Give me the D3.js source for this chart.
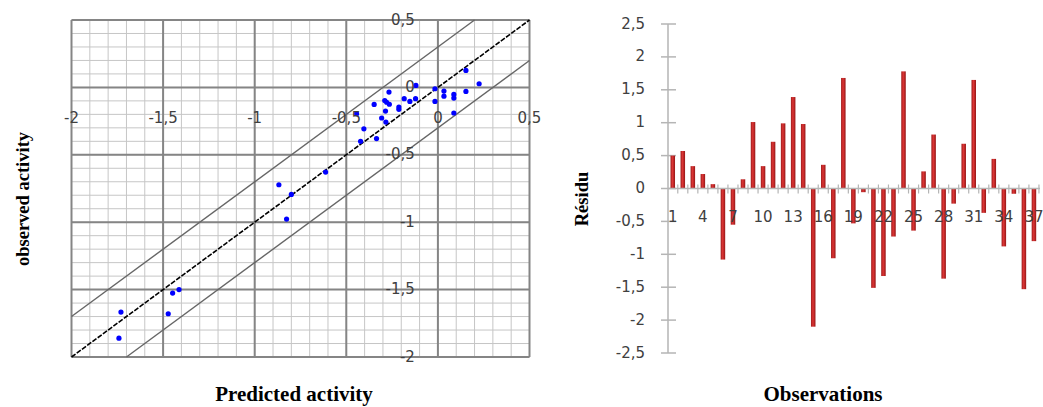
<!DOCTYPE html>
<html><head><meta charset="utf-8">
<script src="https://cdn.jsdelivr.net/npm/d3@7"></script>
<style>body{margin:0;background:#fff}svg{display:block}</style>
</head><body>
<svg id="c" width="1043" height="407"></svg>
<script>
// ---- Left chart data: predicted vs observed activity ----
const predicted = [0.153, 0.225, -0.12, -0.267, -0.016, 0.033, 0.033, 0.087, 0.087, 0.153,
  -0.016, 0.087, -0.184, -0.153, -0.122, -0.29, -0.28, -0.265, -0.348, -0.213,
  -0.213, -0.286, -0.307, -0.284, -0.444, -0.404, -0.422, -0.335, -0.613, -0.868,
  -0.80, -0.826, -1.413, -1.448, -1.472, -1.73, -1.741];
const observed = [0.126, 0.027, 0.015, -0.035, -0.01, -0.027, -0.065, -0.052, -0.079, -0.03,
  -0.104, -0.19, -0.084, -0.104, -0.084, -0.097, -0.11, -0.125, -0.126, -0.146,
  -0.163, -0.176, -0.227, -0.257, -0.195, -0.307, -0.40, -0.38, -0.628, -0.722,
  -0.794, -0.977, -1.50, -1.526, -1.679, -1.667, -1.86];
const scatterTicks = [-2, -1.5, -1, -0.5, 0, 0.5];
const bandOffsets = [0.3, 0, -0.3];   // y = x + offset

// ---- Right chart data: residuals ----
const observations = [1,2,3,4,5,6,7,8,9,10,11,12,13,14,15,16,17,18,19,20,21,22,23,24,25,26,27,28,29,30,31,32,33,34,35,36,37];
const residuals = [0.50, 0.57, 0.34, 0.22, 0.066, -1.08, -0.55, 0.14, 1.01, 0.34,
  0.71, 0.99, 1.39, 0.98, -2.10, 0.36, -1.06, 1.68, -0.53, -0.056,
  -1.51, -1.33, -0.73, 1.78, -0.64, 0.26, 0.82, -1.37, -0.23, 0.68,
  1.65, -0.37, 0.45, -0.88, -0.08, -1.53, -0.80];
const residTicks = [2.5, 2, 1.5, 1, 0.5, 0, -0.5, -1, -1.5, -2, -2.5];
const obsLabels = [1, 4, 7, 10, 13, 16, 19, 22, 25, 28, 31, 34, 37];

const loc = d3.formatLocale({decimal: ",", thousands: " ", grouping: [3], currency: ["", ""], minus: "-"});
const fmt = v => loc.format("")(+v.toFixed(2));

const svg = d3.select("#c");
const tickFont = "'DejaVu Sans', sans-serif";
const titleFont = "'Liberation Serif', 'Times New Roman', serif";

// ================= LEFT =================
const x = d3.scaleLinear([-2, 0.5], [71.5, 529.5]);
const y = d3.scaleLinear([-2, 0.5], [357, 20]);
const L = svg.append("g");
const minor = d3.range(-20, 6).map(i => i / 10);
L.append("g").selectAll("line.mv").data(minor).join("line")
  .attr("x1", d => x(d)).attr("x2", d => x(d)).attr("y1", y(0.5)).attr("y2", y(-2))
  .attr("stroke", "#c6c6c6").attr("stroke-width", 1);
L.append("g").selectAll("line.mh").data(minor).join("line")
  .attr("y1", d => y(d)).attr("y2", d => y(d)).attr("x1", x(-2)).attr("x2", x(0.5))
  .attr("stroke", "#c6c6c6").attr("stroke-width", 1);
L.append("g").selectAll("line").data(scatterTicks).join("line")
  .attr("x1", d => x(d)).attr("x2", d => x(d)).attr("y1", y(0.5)).attr("y2", y(-2))
  .attr("stroke", "#858585").attr("stroke-width", 2);
L.append("g").selectAll("line").data(scatterTicks).join("line")
  .attr("y1", d => y(d)).attr("y2", d => y(d)).attr("x1", x(-2)).attr("x2", x(0.5))
  .attr("stroke", "#858585").attr("stroke-width", 2);

// band lines
bandOffsets.forEach(off => {
  const x0 = Math.max(-2, -2 - off), x1 = Math.min(0.5, 0.5 - off);
  L.append("line")
    .attr("x1", x(x0)).attr("y1", y(x0 + off)).attr("x2", x(x1)).attr("y2", y(x1 + off))
    .attr("stroke", off === 0 ? "#000" : "#666")
    .attr("stroke-width", off === 0 ? 1.6 : 1.4)
    .attr("stroke-dasharray", off === 0 ? "5,1.5" : null);
});

// points
L.append("g").selectAll("circle").data(predicted).join("circle")
  .attr("cx", d => x(d)).attr("cy", (d, i) => y(observed[i])).attr("r", 2.6)
  .attr("fill", "#0000ff");

// tick labels
L.append("g").selectAll("text").data(scatterTicks).join("text")
  .attr("x", d => x(d)).attr("y", y(0) + 31).attr("text-anchor", "middle")
  .attr("dominant-baseline", "middle").attr("font-family", tickFont).attr("font-size", 15)
  .attr("fill", "#404040").text(d => fmt(d));
L.append("g").selectAll("text").data(scatterTicks).join("text")
  .attr("x", x(0) - 23).attr("y", d => y(d)).attr("text-anchor", "end")
  .attr("dominant-baseline", "middle").attr("font-family", tickFont).attr("font-size", 15)
  .attr("fill", "#404040").text(d => fmt(d));

L.append("text").attr("x", 294).attr("y", 401).attr("text-anchor", "middle")
  .attr("font-family", titleFont).attr("font-weight", "bold").attr("font-size", 21)
  .attr("fill", "#000").text("Predicted activity");
L.append("text").attr("transform", "translate(29,199) rotate(-90)").attr("text-anchor", "middle")
  .attr("font-family", titleFont).attr("font-weight", "bold").attr("font-size", 18.5)
  .attr("fill", "#000").text("observed activity");

// ================= RIGHT =================
const yR = d3.scaleLinear([-2.5, 2.5], [353, 24]);
const xR = d3.scaleBand(observations, [668, 1038.7]).paddingInner(0.55).paddingOuter(0.25);
const R = svg.append("g");
const defs = svg.append("defs");
const grad = defs.append("linearGradient").attr("id", "bar").attr("x1", 0).attr("x2", 1).attr("y1", 0).attr("y2", 0);
grad.append("stop").attr("offset", "0%").attr("stop-color", "#a01c1c");
grad.append("stop").attr("offset", "45%").attr("stop-color", "#dc3535");
grad.append("stop").attr("offset", "100%").attr("stop-color", "#951616");

// y axis
R.append("line").attr("x1", 668).attr("x2", 668).attr("y1", yR(2.5)).attr("y2", yR(-2.5))
  .attr("stroke", "#b5b5b5").attr("stroke-width", 1.5);
R.append("g").selectAll("line").data(residTicks).join("line")
  .attr("x1", 661).attr("x2", 676).attr("y1", d => yR(d)).attr("y2", d => yR(d))
  .attr("stroke", "#b5b5b5").attr("stroke-width", 1.5);
R.append("g").selectAll("text").data(residTicks).join("text")
  .attr("x", 645).attr("y", d => yR(d)).attr("text-anchor", "end").attr("dominant-baseline", "middle")
  .attr("font-family", tickFont).attr("font-size", 15).attr("fill", "#404040").text(d => fmt(d));

// bars
R.append("g").selectAll("rect").data(residuals).join("rect")
  .attr("x", (d, i) => xR(observations[i]))
  .attr("width", xR.bandwidth())
  .attr("y", d => yR(Math.max(0, d)))
  .attr("height", d => Math.abs(yR(d) - yR(0)))
  .attr("fill", "url(#bar)");

// category axis at zero
const step = xR.step();
R.append("line").attr("x1", 668).attr("x2", 1040).attr("y1", yR(0)).attr("y2", yR(0))
  .attr("stroke", "#b5b5b5").attr("stroke-width", 1.5);
R.append("g").selectAll("line").data(observations).join("line")
  .attr("x1", d => xR(d) + xR.bandwidth() / 2 + step / 2).attr("x2", d => xR(d) + xR.bandwidth() / 2 + step / 2)
  .attr("y1", yR(0) - 4).attr("y2", yR(0) + 5)
  .attr("stroke", "#b5b5b5").attr("stroke-width", 1.2);
R.append("g").selectAll("text").data(obsLabels).join("text")
  .attr("x", d => xR(d) + xR.bandwidth() / 2).attr("y", yR(0) + 29).attr("text-anchor", "middle")
  .attr("dominant-baseline", "middle").attr("font-family", tickFont).attr("font-size", 15)
  .attr("fill", "#404040").text(d => d);

R.append("text").attr("x", 823).attr("y", 401).attr("text-anchor", "middle")
  .attr("font-family", titleFont).attr("font-weight", "bold").attr("font-size", 21)
  .attr("fill", "#000").text("Observations");
R.append("text").attr("transform", "translate(588,199) rotate(-90)").attr("text-anchor", "middle")
  .attr("font-family", titleFont).attr("font-weight", "bold").attr("font-size", 18.5)
  .attr("fill", "#000").text("Résidu");
</script>
</body></html>
